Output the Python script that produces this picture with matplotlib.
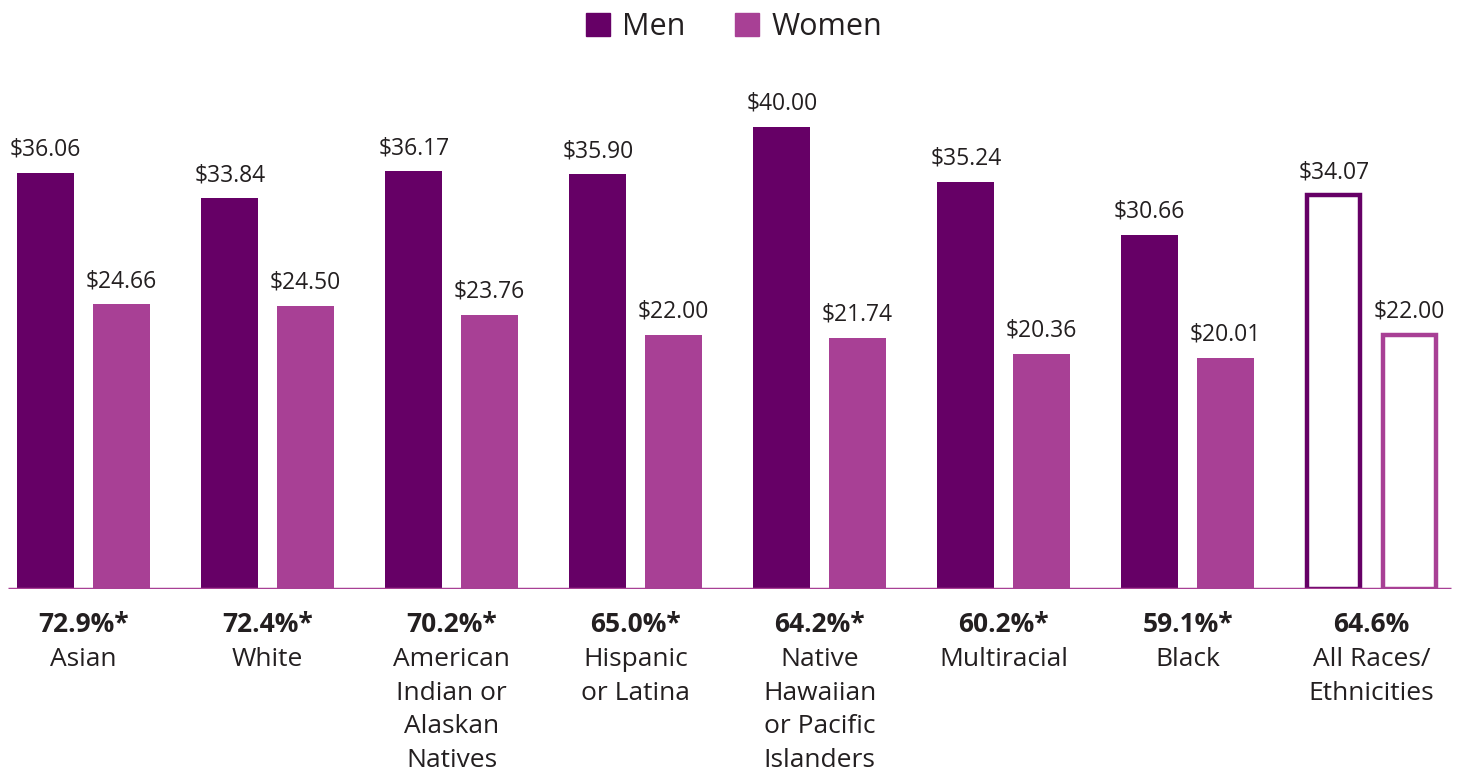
import matplotlib
matplotlib.use("Agg")
import matplotlib.pyplot as plt
from matplotlib.patches import Patch

categories = ["Asian", "White", "American\nIndian or\nAlaskan\nNatives", "Hispanic\nor Latina",
              "Native\nHawaiian\nor Pacific\nIslanders", "Multiracial", "Black", "All Races/\nEthnicities"]
ratios = ["72.9%*", "72.4%*", "70.2%*", "65.0%*", "64.2%*", "60.2%*", "59.1%*", "64.6%"]
men = [36.06, 33.84, 36.17, 35.90, 40.00, 35.24, 30.66, 34.07]
women = [24.66, 24.50, 23.76, 22.00, 21.74, 20.36, 20.01, 22.00]

MEN_C = "#660066"
WOMEN_C = "#A84095"
TEXT_C = "#231F20"

plt.rcParams['font.family'] = ['Open Sans', 'DejaVu Sans']

W, H = 1468, 776
fig = plt.figure(figsize=(W / 100, H / 100), dpi=100)
base_px = 589
top_px = 60
ax = fig.add_axes([0, 1 - base_px / H, 1, (base_px - top_px) / H])
ax.set_ylim(0, 40 * (base_px - top_px) / (base_px - 127))
ax.set_xlim(-83.5 / 184, (W - 83.5) / 184)
ax.axis("off")

bw = 0.31
off = 0.205
n = len(categories)
for i in range(n):
    hollow = (i == n - 1)
    for val, dx, col in ((men[i], -off, MEN_C), (women[i], off, WOMEN_C)):
        if hollow:
            ax.bar(i + dx, val, width=bw - 0.02, facecolor="white", edgecolor=col, linewidth=3.2, zorder=2)
        else:
            ax.bar(i + dx, val, width=bw, color=col, zorder=2)
        ax.annotate(f"${val:.2f}", (i + dx, val), xytext=(0, 8), textcoords="offset points",
                    ha="center", va="bottom", fontsize=16.5, color=TEXT_C)
    ax.annotate(ratios[i], (i, 0), xytext=(0, -16), textcoords="offset points",
                ha="center", va="top", fontsize=19, fontweight="bold", color=TEXT_C,
                annotation_clip=False)
    ax.annotate(categories[i], (i, 0), xytext=(0, -42), textcoords="offset points",
                ha="center", va="top", fontsize=19, color=TEXT_C, linespacing=1.45,
                annotation_clip=False)

ax.plot([-0.41, 7.43], [0, 0], color=WOMEN_C, lw=2.5, zorder=3, solid_capstyle="butt")

handles = [Patch(color=MEN_C, label="Men"), Patch(color=WOMEN_C, label="Women")]
leg = fig.legend(handles=handles, loc="upper center", bbox_to_anchor=(0.5, 1.02), ncol=2,
                 frameon=False, fontsize=22, handlelength=0.8, handleheight=0.8,
                 handletextpad=0.4, columnspacing=1.6)
for t in leg.get_texts():
    t.set_color(TEXT_C)

fig.savefig("out.png", dpi=100)
